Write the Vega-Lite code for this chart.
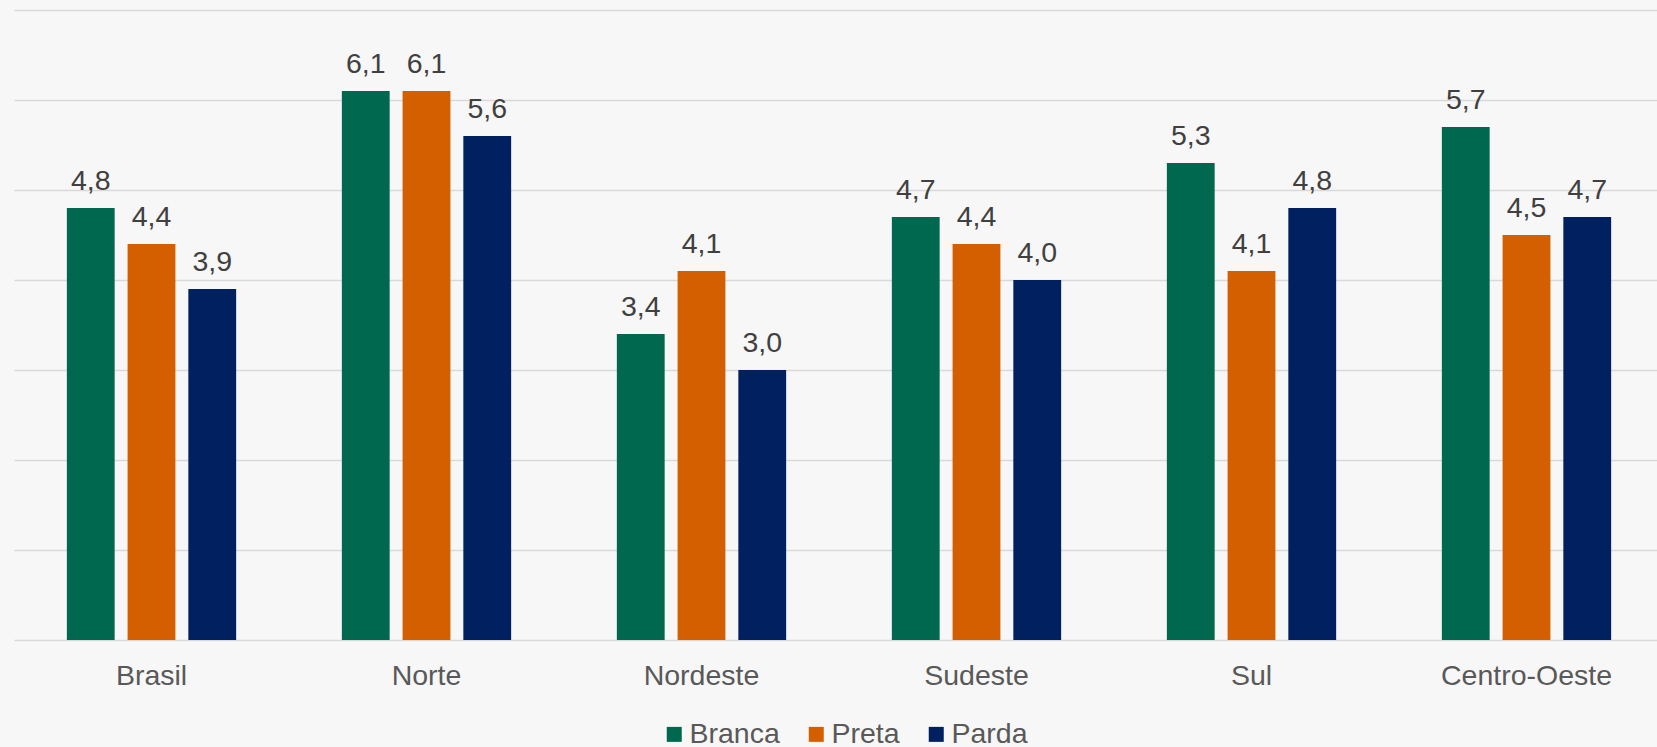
{
  "$schema": "https://vega.github.io/schema/vega-lite/v6.json",
  "width": 1650,
  "height": 630,
  "padding": {"left": 14, "top": 10, "right": 0, "bottom": 0},
  "background": "#F7F7F7",
  "config": {
    "view": {"stroke": null},
    "font": "Liberation Sans",
    "locale": {"number": {"decimal": ",", "thousands": ".", "grouping": [3], "currency": ["R$", ""]}}
  },
  "data": {
    "values": [
      {"regiao": "Brasil", "cor": "Branca", "valor": 4.8},
      {"regiao": "Brasil", "cor": "Preta", "valor": 4.4},
      {"regiao": "Brasil", "cor": "Parda", "valor": 3.9},
      {"regiao": "Norte", "cor": "Branca", "valor": 6.1},
      {"regiao": "Norte", "cor": "Preta", "valor": 6.1},
      {"regiao": "Norte", "cor": "Parda", "valor": 5.6},
      {"regiao": "Nordeste", "cor": "Branca", "valor": 3.4},
      {"regiao": "Nordeste", "cor": "Preta", "valor": 4.1},
      {"regiao": "Nordeste", "cor": "Parda", "valor": 3.0},
      {"regiao": "Sudeste", "cor": "Branca", "valor": 4.7},
      {"regiao": "Sudeste", "cor": "Preta", "valor": 4.4},
      {"regiao": "Sudeste", "cor": "Parda", "valor": 4.0},
      {"regiao": "Sul", "cor": "Branca", "valor": 5.3},
      {"regiao": "Sul", "cor": "Preta", "valor": 4.1},
      {"regiao": "Sul", "cor": "Parda", "valor": 4.8},
      {"regiao": "Centro-Oeste", "cor": "Branca", "valor": 5.7},
      {"regiao": "Centro-Oeste", "cor": "Preta", "valor": 4.5},
      {"regiao": "Centro-Oeste", "cor": "Parda", "valor": 4.7}
    ]
  },
  "encoding": {
    "x": {
      "field": "regiao", "type": "nominal", "sort": null,
      "scale": {"paddingInner": 0, "paddingOuter": 0},
      "axis": {"title": null, "labelAngle": 0, "ticks": false, "domain": false, "labelFontSize": 28.5, "labelColor": "#595959", "labelPadding": 21}
    },
    "xOffset": {
      "field": "cor", "type": "nominal", "sort": ["Branca", "Preta", "Parda"],
      "scale": {"paddingInner": 0.213, "paddingOuter": 0.87}
    },
    "y": {
      "field": "valor", "type": "quantitative",
      "scale": {"domain": [0, 7], "nice": false},
      "axis": {"title": null, "labels": false, "ticks": false, "domain": false, "values": [0, 1, 2, 3, 4, 5, 6, 7], "gridColor": "#D9D9D9", "gridWidth": 1.5}
    }
  },
  "layer": [
    {
      "mark": {"type": "bar"},
      "encoding": {
        "color": {
          "field": "cor", "type": "nominal",
          "sort": ["Branca", "Preta", "Parda"],
          "scale": {"domain": ["Branca", "Preta", "Parda"], "range": ["#00684F", "#D35F00", "#00205F"]},
          "legend": {
            "title": null, "orient": "none", "direction": "horizontal",
            "legendX": 646, "legendY": 710,
            "symbolType": "square", "symbolSize": 225, "symbolStrokeWidth": 0,
            "labelFontSize": 28.5, "labelColor": "#595959", "labelOffset": 1,
            "columnPadding": 22, "symbolOpacity": 1
          }
        }
      }
    },
    {
      "mark": {"type": "text", "baseline": "alphabetic", "dy": -18, "fontSize": 28.5, "color": "#404040"},
      "encoding": {
        "text": {"field": "valor", "type": "quantitative", "format": ".1f"}
      }
    }
  ]
}
